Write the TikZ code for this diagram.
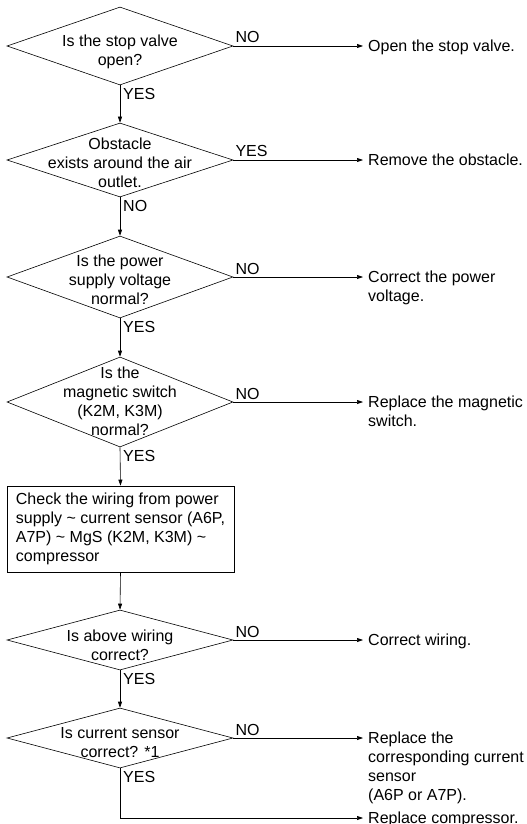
\documentclass[tikz,border=0pt]{standalone}
\usepackage{fontspec}
\setmainfont{Liberation Sans}
\usetikzlibrary{shapes.geometric,arrows.meta,calc}
\newcommand\mainfs{\fontsize{16pt}{19pt}\selectfont}
\begin{document}
\begin{tikzpicture}[x=1pt,y=-1pt,
  every node/.style={font=\mainfs},
  dia/.style={draw, diamond, minimum width=226pt, inner sep=0pt, line width=0.6pt},
  dtext/.style={align=center, inner sep=0pt},
  conn/.style={draw, line width=0.6pt, -{Triangle[length=6pt,width=4pt]}},
  lbl/.style={inner sep=0pt},
  rtext/.style={align=left, anchor=north west, inner sep=0pt},
  procbox/.style={draw, line width=0.6pt, minimum width=227pt, minimum height=86pt, align=left, inner sep=6pt}]
\useasboundingbox (0,0) rectangle (527,824);
\coordinate (rx) at (363,0);
% diamonds
\node[dia, minimum height=78pt] (d1) at (120,46) {};
\node[dia, minimum height=74pt] (d2) at (120,160) {};
\node[dia, minimum height=82pt] (d3) at (120,277) {};
\node[dia, minimum height=90pt] (d4) at (120,402) {};
\node[procbox] (box) at (120.5,529) {Check the wiring from power\\supply \textasciitilde{} current sensor (A6P,\\A7P) \textasciitilde{} MgS (K2M, K3M) \textasciitilde{}\\compressor};
\node[dia, minimum height=60pt] (d5) at (120,640) {};
\node[dia, minimum height=60pt] (d6) at (120,738) {};
% diamond texts
\node[dtext] (t1) at (120,52) {Is the stop valve\\open?};
\node[dtext] (t2) at (120,162.5) {Obstacle\\exists around the air\\outlet.};
\node[dtext] (t3) at (120,280) {Is the power\\supply voltage\\normal?};
\node[dtext] (t4) at (120,401) {Is the\\magnetic switch\\(K2M, K3M)\\normal?};
\node[dtext] (t5) at (120,645) {Is above wiring\\correct?};
\node[dtext] (t6) at (120,743) {Is current sensor\\correct? *1};
% right texts
\node[rtext] (r1) at (368,46-7.6) {\strut Open the stop valve.};
\node[rtext] (r2) at (368,160-7.6) {\strut Remove the obstacle.};
\node[rtext] (r3) at (368,277-7.6) {\strut Correct the power\\voltage.};
\node[rtext] (r4) at (368,402-7.6) {\strut Replace the magnetic\\switch.};
\node[rtext] (r5) at (368,640-7.6) {\strut Correct wiring.};
\node[rtext] (r6) at (368,738-7.6) {\strut Replace the\\corresponding current\\sensor\\(A6P or A7P).};
\node[rtext] (r7) at (368,818-7.6) {\strut Replace compressor.};
\coordinate (e7) at (363,818);
% vertical connectors
\draw[conn] (d1.south) -- (d2.north);
\draw[conn] (d2.south) -- (d3.north);
\draw[conn] (d3.south) -- (d4.north);
\draw[conn] (d4.south) -- (box.north);
\draw[conn] (box.south) -- (d5.north);
\draw[conn] (d5.south) -- (d6.north);
\draw[conn] (d6.south) |- (e7);
% horizontal connectors
\draw[conn] (d1.east) -- (d1.east -| rx);
\draw[conn] (d2.east) -- (d2.east -| rx);
\draw[conn] (d3.east) -- (d3.east -| rx);
\draw[conn] (d4.east) -- (d4.east -| rx);
\draw[conn] (d5.east) -- (d5.east -| rx);
\draw[conn] (d6.east) -- (d6.east -| rx);
% labels below
\node[lbl, anchor=north west] (y1) at ($(d1.south)+(3,3)$) {YES};
\node[lbl, anchor=north west] (y2) at ($(d2.south)+(3,3)$) {NO};
\node[lbl, anchor=north west] (y3) at ($(d3.south)+(3,3)$) {YES};
\node[lbl, anchor=north west] (y4) at ($(d4.south)+(3,3)$) {YES};
\node[lbl, anchor=north west] (y5) at ($(d5.south)+(3,3)$) {YES};
\node[lbl, anchor=north west] (y6) at ($(d6.south)+(3,3)$) {YES};
% labels right
\node[lbl, anchor=base west] (n1) at ($(d1.east)+(2,-3)$) {NO};
\node[lbl, anchor=base west] (n2) at ($(d2.east)+(2,-3)$) {YES};
\node[lbl, anchor=base west] (n3) at ($(d3.east)+(2,-3)$) {NO};
\node[lbl, anchor=base west] (n4) at ($(d4.east)+(2,-3)$) {NO};
\node[lbl, anchor=base west] (n5) at ($(d5.east)+(2,-3)$) {NO};
\node[lbl, anchor=base west] (n6) at ($(d6.east)+(2,-3)$) {NO};
\end{tikzpicture}
\end{document}
